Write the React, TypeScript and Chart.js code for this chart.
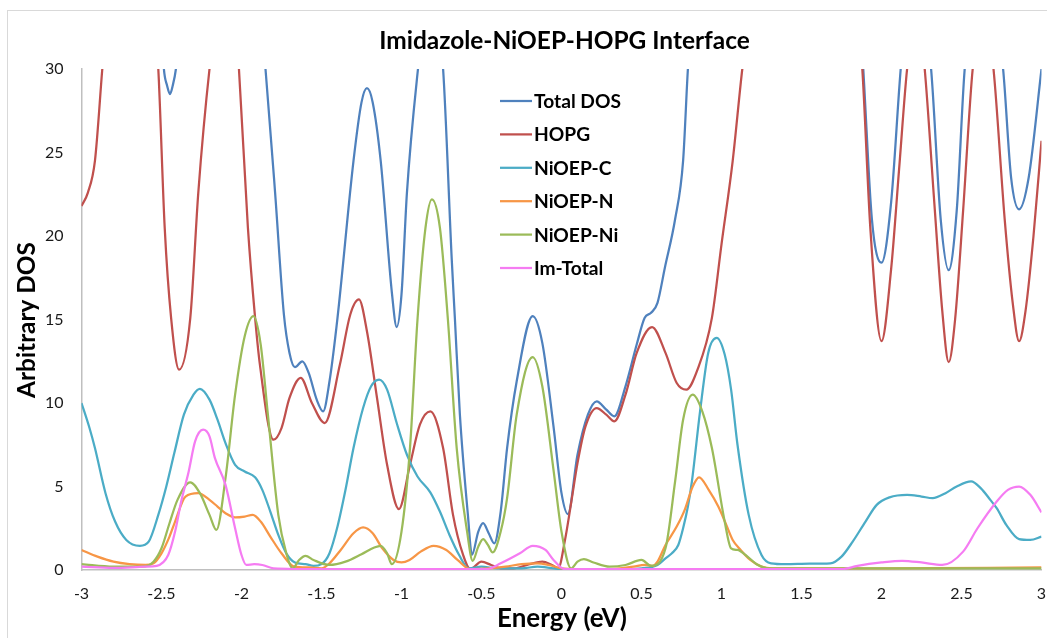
import React, { useEffect, useRef } from "react";
import { Chart, registerables } from "chart.js";

Chart.register(...registerables);

// ---- Data (energy eV, arbitrary DOS) ----
const totalDos: [number, number][] = [
  [-3, 40], [-2.8, 52], [-2.6, 48], [-2.52, 36], [-2.485, 30], [-2.465, 29], [-2.447, 28.5], [-2.43, 29], [-2.41, 30],
  [-2.35, 36], [-2.2, 45], [-2.0, 42], [-1.9, 35], [-1.85, 30], [-1.79, 22.6], [-1.735, 15.3], [-1.7, 13.0],
  [-1.666, 12.15], [-1.62, 12.5], [-1.58, 11.8], [-1.53, 10.2], [-1.49, 9.5], [-1.45, 11.3], [-1.4, 15.1],
  [-1.3, 24.5], [-1.25, 28.0], [-1.216, 28.85], [-1.18, 28.0], [-1.13, 24.5], [-1.06, 16.6], [-1.03, 14.55],
  [-1.0, 16.5], [-0.966, 22.6], [-0.897, 30], [-0.82, 36], [-0.74, 30], [-0.686, 18.6], [-0.666, 15],
  [-0.635, 9.3], [-0.585, 3.3], [-0.56, 0.9], [-0.52, 2.3], [-0.49, 2.8], [-0.455, 2.2], [-0.42, 1.6],
  [-0.38, 3.5], [-0.34, 7.3], [-0.28, 11.3], [-0.18, 15.2], [-0.12, 13.6], [-0.05, 8.6], [0.0, 4.6], [0.04, 3.35],
  [0.1, 6.9], [0.165, 9.3], [0.22, 10.1], [0.28, 9.6], [0.33, 9.2], [0.4, 11], [0.47, 13.5], [0.52, 15.1],
  [0.56, 15.4], [0.6, 16.0], [0.646, 18.1], [0.71, 21], [0.76, 24.5], [0.79, 30], [0.85, 38], [1.2, 55],
  [1.6, 55], [1.82, 40], [1.886, 30], [1.94, 21], [2.0, 18.4], [2.06, 22], [2.12, 30], [2.2, 38], [2.31, 30],
  [2.37, 21], [2.42, 17.95], [2.47, 21.5], [2.52, 30], [2.64, 38], [2.76, 30], [2.81, 23.5], [2.86, 21.6],
  [2.92, 23.5], [3.0, 30],
];

const hopg: [number, number][] = [
  [-3, 21.8], [-2.96, 22.6], [-2.916, 24.5], [-2.87, 30], [-2.8, 38], [-2.7, 44], [-2.6, 40], [-2.52, 30],
  [-2.48, 20.5], [-2.44, 15.1], [-2.39, 12], [-2.32, 15.1], [-2.27, 22.6], [-2.2, 30], [-2.1, 37], [-2.05, 34],
  [-2.016, 30], [-1.96, 20.5], [-1.915, 15.1], [-1.885, 12.3], [-1.8, 7.8], [-1.75, 8.5], [-1.7, 10.3],
  [-1.63, 11.5], [-1.56, 10.0], [-1.48, 8.8], [-1.385, 12.3], [-1.32, 15.3], [-1.266, 16.2], [-1.216, 14.3],
  [-1.153, 10.3], [-1.09, 6.3], [-1.016, 3.65], [-0.947, 6.3], [-0.885, 8.7], [-0.82, 9.5], [-0.74, 7.3],
  [-0.678, 3.3], [-0.615, 0.9], [-0.57, 0.05], [-0.5, 0.5], [-0.44, 0.3], [-0.38, 0.1], [-0.3, 0.1],
  [-0.2, 0.35], [-0.12, 0.5], [-0.06, 0.3], [-0.02, 0.1], [0.02, 1.7], [0.06, 4.0], [0.1, 6.4], [0.15, 8.6],
  [0.22, 9.7], [0.28, 9.3], [0.33, 8.9], [0.4, 10.5], [0.47, 13.0], [0.566, 14.55], [0.65, 13.0], [0.72, 11.2],
  [0.78, 10.8], [0.85, 12.0], [0.94, 15.1], [1.0, 19.5], [1.07, 24.5], [1.13, 30], [1.3, 42], [1.5, 48],
  [1.7, 42], [1.85, 33], [1.88, 30], [1.93, 20.5], [2.0, 13.7], [2.06, 18], [2.11, 24], [2.16, 30], [2.22, 34],
  [2.27, 30], [2.33, 22], [2.38, 15.5], [2.42, 12.45], [2.46, 15], [2.51, 21.5], [2.57, 30], [2.64, 34],
  [2.7, 30], [2.77, 21], [2.82, 16], [2.86, 13.7], [2.9, 15.5], [2.95, 20], [3.0, 25.7],
];

const nioepC: [number, number][] = [
  [-3, 10], [-2.95, 8.5], [-2.916, 7.3], [-2.85, 4.6], [-2.79, 2.9], [-2.72, 1.8], [-2.635, 1.45], [-2.58, 1.7],
  [-2.52, 3.3], [-2.47, 5.0], [-2.42, 7.0], [-2.36, 9.3], [-2.3, 10.5], [-2.26, 10.85], [-2.2, 10.2],
  [-2.15, 9.0], [-2.1, 7.6], [-2.04, 6.3], [-1.98, 5.9], [-1.915, 5.55], [-1.87, 4.8], [-1.82, 3.5],
  [-1.77, 2.1], [-1.72, 1.0], [-1.666, 0.45], [-1.6, 0.35], [-1.55, 0.25], [-1.5, 0.35], [-1.45, 1.0],
  [-1.4, 2.6], [-1.35, 4.8], [-1.3, 7.3], [-1.24, 9.7], [-1.19, 11.0], [-1.14, 11.4], [-1.09, 10.8],
  [-1.03, 8.8], [-0.966, 6.9], [-0.9, 5.6], [-0.82, 4.65], [-0.76, 3.5], [-0.7, 2.1], [-0.64, 0.9],
  [-0.58, 0.1], [-0.5, 0.2], [-0.4, 0.1], [-0.25, 0.1], [-0.15, 0.2], [-0.05, 0.1], [0.05, 0.02], [0.3, 0.02],
  [0.5, 0.1], [0.6, 0.3], [0.65, 0.7], [0.69, 1.0], [0.73, 1.5], [0.76, 2.5], [0.79, 3.8], [0.815, 5.3],
  [0.866, 9.5], [0.917, 13.0], [0.97, 13.9], [1.02, 12.9], [1.06, 10.8], [1.1, 7.5], [1.17, 3.3],
  [1.25, 0.9], [1.31, 0.4], [1.4, 0.35], [1.55, 0.38], [1.68, 0.4], [1.75, 0.8], [1.82, 1.7], [1.9, 2.9],
  [1.97, 3.9], [2.05, 4.35], [2.16, 4.5], [2.25, 4.4], [2.32, 4.3], [2.4, 4.6], [2.47, 5.0], [2.56, 5.3],
  [2.62, 4.9], [2.68, 4.2], [2.72, 3.7], [2.78, 2.7], [2.86, 1.85], [2.93, 1.8], [3.0, 2.0],
];

const nioepN: [number, number][] = [
  [-3, 1.2], [-2.9, 0.8], [-2.8, 0.5], [-2.7, 0.35], [-2.6, 0.3], [-2.55, 0.4], [-2.5, 1.0], [-2.45, 2.0],
  [-2.415, 2.9], [-2.35, 4.4], [-2.27, 4.6], [-2.2, 4.2], [-2.15, 3.8], [-2.1, 3.4], [-2.04, 3.15],
  [-1.98, 3.2], [-1.93, 3.3], [-1.88, 2.9], [-1.82, 2.0], [-1.75, 1.0], [-1.67, 0.2], [-1.58, 0.15],
  [-1.5, 0.1], [-1.45, 0.4], [-1.38, 1.2], [-1.3, 2.2], [-1.24, 2.55], [-1.18, 2.2], [-1.12, 1.3],
  [-1.05, 0.6], [-1.0, 0.45], [-0.95, 0.6], [-0.88, 1.1], [-0.8, 1.45], [-0.72, 1.2], [-0.65, 0.6],
  [-0.57, 0.05], [-0.45, 0.1], [-0.35, 0.2], [-0.25, 0.35], [-0.15, 0.4], [-0.08, 0.3], [0.0, 0.1],
  [0.1, 0.05], [0.3, 0.05], [0.45, 0.2], [0.52, 0.3], [0.57, 0.25], [0.6, 0.5], [0.65, 1.5], [0.72, 2.6],
  [0.77, 3.6], [0.82, 5.0], [0.86, 5.55], [0.92, 4.8], [0.98, 3.8], [1.03, 2.7], [1.07, 1.8], [1.12, 1.2],
  [1.18, 0.6], [1.25, 0.2], [1.32, 0.1], [2.0, 0.1], [3.0, 0.15],
];

const nioepNi: [number, number][] = [
  [-3, 0.35], [-2.8, 0.2], [-2.62, 0.2], [-2.55, 0.5], [-2.5, 1.3], [-2.45, 2.8], [-2.4, 4.2], [-2.32, 5.25],
  [-2.26, 4.6], [-2.2, 3.3], [-2.157, 2.4], [-2.1, 5.5], [-2.04, 10.5], [-1.98, 14.0], [-1.925, 15.2],
  [-1.88, 13.5], [-1.835, 9.3], [-1.77, 3.3], [-1.72, 1.0], [-1.68, 0.1], [-1.64, 0.6], [-1.6, 0.85],
  [-1.55, 0.6], [-1.45, 0.3], [-1.35, 0.5], [-1.25, 0.95], [-1.17, 1.35], [-1.13, 1.45], [-1.09, 1.0],
  [-1.06, 0.35], [-1.0, 2.3], [-0.947, 7.3], [-0.9, 15], [-0.85, 20.5], [-0.81, 22.2], [-0.76, 20.5],
  [-0.71, 15], [-0.655, 7.3], [-0.59, 2.3], [-0.555, 0.55], [-0.52, 1.4], [-0.49, 1.85], [-0.46, 1.5],
  [-0.43, 1.05], [-0.38, 2.3], [-0.34, 4.3], [-0.28, 9.3], [-0.18, 12.75], [-0.12, 11.0], [-0.05, 6.0],
  [0.0, 2.3], [0.06, 0.1], [0.1, 0.5], [0.14, 0.65], [0.2, 0.45], [0.3, 0.2], [0.4, 0.3], [0.5, 0.6],
  [0.56, 0.25], [0.65, 1.3], [0.71, 5.3], [0.76, 9.0], [0.82, 10.5], [0.88, 9.5], [0.94, 7.3], [1.02, 2.9],
  [1.06, 1.3], [1.1, 1.2], [1.15, 0.9], [1.22, 0.35], [1.3, 0.1], [2.0, 0.1], [3.0, 0.1],
];

const imTotal: [number, number][] = [
  [-3, 0.2], [-2.8, 0.12], [-2.6, 0.2], [-2.53, 0.25], [-2.458, 0.9], [-2.415, 2.3], [-2.377, 4.1],
  [-2.33, 5.9], [-2.29, 7.7], [-2.24, 8.4], [-2.2, 8.0], [-2.166, 6.7], [-2.1, 5.1], [-2.04, 2.5],
  [-2.0, 0.9], [-1.97, 0.3], [-1.92, 0.35], [-1.87, 0.3], [-1.8, 0.1], [-1.5, 0.05], [-0.6, 0.05],
  [-0.47, 0.05], [-0.38, 0.4], [-0.26, 1.0], [-0.18, 1.45], [-0.1, 1.2], [-0.05, 0.6], [0.02, 0.05],
  [1.75, 0.05], [1.85, 0.25], [2.0, 0.45], [2.13, 0.55], [2.25, 0.45], [2.38, 0.3], [2.51, 1.1], [2.6, 2.5],
  [2.72, 4.1], [2.79, 4.8], [2.86, 5.0], [2.93, 4.5], [3.0, 3.45],
];

const seriesNames = ["Total DOS", "HOPG", "NiOEP-C", "NiOEP-N", "NiOEP-Ni", "Im-Total"];
const seriesColors = ["#4F81BD", "#C0504D", "#4BACC6", "#F79646", "#9BBB59", "#F57CF2"];
const seriesData = [totalDos, hopg, nioepC, nioepN, nioepNi, imTotal];

const chartTitle = "Imidazole-NiOEP-HOPG Interface";
const xAxisTitle = "Energy (eV)";
const yAxisTitle = "Arbitrary DOS";

const FONT = "Lato, 'Open Sans', sans-serif";

function fitSize(ctx: CanvasRenderingContext2D, text: string, weight: string, target: number) {
  ctx.font = `${weight} 100px ${FONT}`;
  const w = ctx.measureText(text).width;
  return (100 * target) / w;
}

function fmtTick(v: number | string) {
  const n = Math.round(Number(v) * 10) / 10;
  return String(n);
}

export default function App() {
  const ref = useRef<HTMLCanvasElement>(null);

  useEffect(() => {
    const canvas = ref.current!;
    const decor = {
      id: "decor",
      beforeDraw(chart: any) {
        const ctx = chart.ctx as CanvasRenderingContext2D;
        ctx.save();
        ctx.fillStyle = "#ffffff";
        ctx.fillRect(0, 0, chart.width, chart.height);
        ctx.strokeStyle = "#D9D9D9";
        ctx.lineWidth = 1;
        ctx.strokeRect(7.5, 10.5, chart.width + 40, chart.height + 40);
        ctx.restore();
      },
      afterDraw(chart: any) {
        const ctx = chart.ctx as CanvasRenderingContext2D;
        ctx.save();
        ctx.fillStyle = "#000000";
        ctx.textBaseline = "alphabetic";
        // title
        const ts = fitSize(ctx, chartTitle, "bold", 371);
        ctx.font = `bold ${ts}px ${FONT}`;
        ctx.textAlign = "center";
        ctx.fillText(chartTitle, 564.5, 49);
        // x axis title
        const xs = fitSize(ctx, xAxisTitle, "bold", 130);
        ctx.font = `bold ${xs}px ${FONT}`;
        ctx.fillText(xAxisTitle, 562, 627);
        // y axis title
        const ys = fitSize(ctx, yAxisTitle, "bold", 156);
        ctx.font = `bold ${ys}px ${FONT}`;
        ctx.save();
        ctx.translate(35, 320);
        ctx.rotate(-Math.PI / 2);
        ctx.fillText(yAxisTitle, 0, 0);
        ctx.restore();
        // legend
        const ls = fitSize(ctx, seriesNames[0], "bold", 87);
        ctx.font = `bold ${ls}px ${FONT}`;
        ctx.textAlign = "left";
        const cap = ls * 0.72;
        seriesNames.forEach((name, i) => {
          const y = 101 + i * 33.4;
          ctx.strokeStyle = seriesColors[i];
          ctx.lineWidth = 2.25;
          ctx.beginPath();
          ctx.moveTo(500, y);
          ctx.lineTo(532, y);
          ctx.stroke();
          ctx.fillText(name, 534, y + cap / 2);
        });
        ctx.restore();
      },
    };

    const chart = new Chart(canvas, {
      type: "line",
      data: {
        datasets: seriesNames.map((name, i) => ({
          label: name,
          data: seriesData[i].map(([x, y]) => ({ x, y })),
          borderColor: seriesColors[i],
          backgroundColor: seriesColors[i],
          borderWidth: 2.25,
          pointRadius: 0,
          cubicInterpolationMode: "monotone" as const,
          fill: false,
          clip: 0,
          order: seriesNames.length - i,
        })),
      },
      options: {
        responsive: false,
        animation: false,
        devicePixelRatio: 1,
        layout: { padding: { top: 69, right: 5.5, bottom: 0, left: 0 } },
        plugins: {
          legend: { display: false },
          tooltip: { enabled: false },
          title: { display: false },
        },
        scales: {
          x: {
            type: "linear",
            min: -3,
            max: 3,
            ticks: {
              stepSize: 0.5,
              padding: 14,
              color: "#1a1a1a",
              font: { family: FONT, size: 16 },
              maxRotation: 0,
              autoSkip: false,
              callback: (v: number | string) => fmtTick(v),
            },
            grid: { display: false, drawTicks: false },
            border: { display: true, color: "#BFBFBF", width: 1.5 },
            afterFit: (s: any) => {
              s.height = 68;
              s.paddingLeft = 0;
              s.paddingRight = 0;
            },
          },
          y: {
            type: "linear",
            min: 0,
            max: 30,
            ticks: {
              stepSize: 5,
              padding: 18,
              color: "#1a1a1a",
              font: { family: FONT, size: 16 },
              callback: (v: number | string) => fmtTick(v),
            },
            grid: { display: false, drawTicks: false },
            border: { display: true, color: "#BFBFBF", width: 1.5 },
            afterFit: (s: any) => {
              s.width = 81.5;
              s.paddingTop = 0;
              s.paddingBottom = 0;
            },
          },
        },
      },
      plugins: [decor],
    } as any);
    return () => chart.destroy();
  }, []);

  return (
    <div style={{ position: "fixed", left: 0, top: 0, width: 1047, height: 638, background: "#fff" }}>
      <canvas ref={ref} width={1047} height={638} style={{ display: "block", width: 1047, height: 638 }} />
    </div>
  );
}
